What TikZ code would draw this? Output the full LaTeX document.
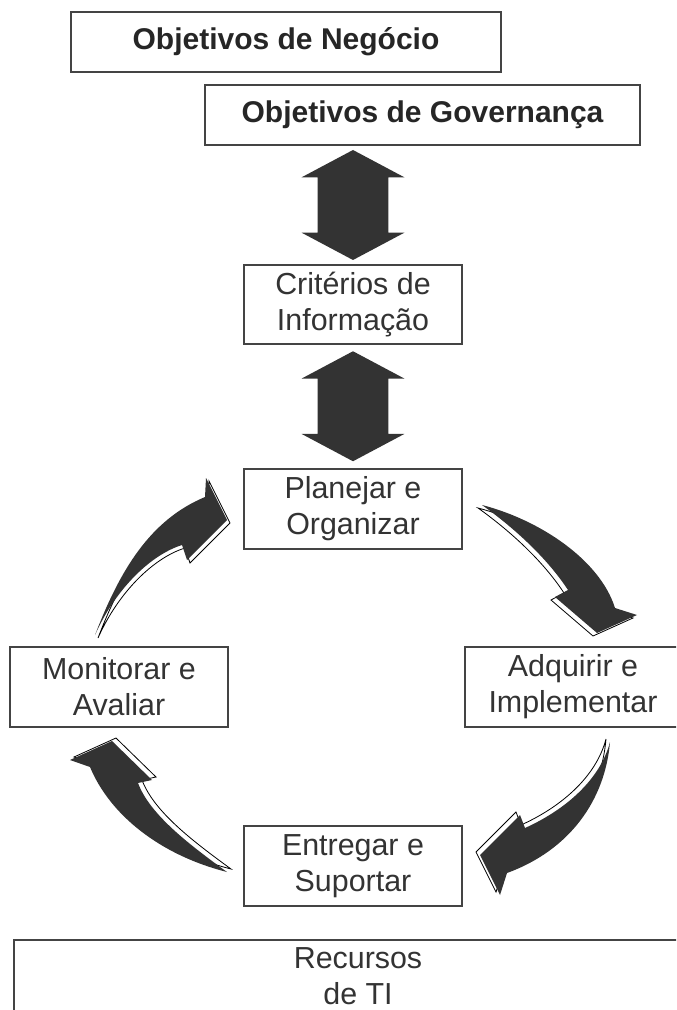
\documentclass[tikz,border=0pt]{standalone}
\usepackage{fontspec}
\setmainfont{Liberation Sans}
\usetikzlibrary{shapes.arrows,calc}
\definecolor{cinzaescuro}{HTML}{333333}
\definecolor{borda}{HTML}{444444}

\begin{document}
\begin{tikzpicture}[x=0.5pt,y=-0.5pt,
        caixa/.style={rectangle, draw=borda, line width=1pt, text=cinzaescuro,
                      align=center, minimum width=109pt, minimum height=40pt,
                      font=\fontsize{15.2}{18}\selectfont, inner sep=0pt},
        titulo/.style={caixa, font=\fontsize{15}{18}\selectfont\bfseries,
                       text=black!85, minimum height=30pt},
        setadupla/.style={double arrow, fill=cinzaescuro, rotate=90,
                          minimum height=55pt, minimum width=51pt,
                          double arrow head extend=8pt, double arrow tip angle=124,
                          inner xsep=0pt, inner ysep=17.5pt},
        setacurva/.style={fill=cinzaescuro,
                          preaction={fill=white, draw=black, line width=0.4pt,
                                     transform canvas={shift={#1}}}}
    ]
    \useasboundingbox (0,0) rectangle (676,1010);
    \clip (0,0) rectangle (676,1010);
    \fill[white] (0,0) rectangle (676,1010);

        % Objetivos no topo
        \node[titulo, minimum width=215pt] (negocio) at (286,42) {Objetivos de Negócio};
        \node[titulo, minimum width=217.5pt] (governanca) at (422.5,115) {Objetivos de Governança};

        % Caixas do ciclo
        \node[caixa, minimum height=39.5pt] (criterios) at (353,304.5) {Critérios de\\Informação};
        \node[caixa] (planejar) at (353,508.5) {Planejar e\\Organizar};
        \node[caixa] (monitorar) at (119,687) {Monitorar e\\Avaliar};
        \node[caixa, minimum width=108pt] (adquirir) at (573,687) {Adquirir e\\Implementar};
        \node[caixa] (entregar) at (353,866) {Entregar e\\Suportar};
        \node[caixa, minimum width=344pt, minimum height=36pt] (recursos) at (358,976) {Recursos\\de TI};

        % Setas duplas
        \node[setadupla] (seta1) at ($(criterios.north)!0.5!(criterios.north |- governanca.south)$) {};
        \node[setadupla] (seta2) at ($(criterios.south)!0.5!(planejar.north)$) {};

        % Setas curvas do ciclo
        \path[setacurva={(3,3)}] (95,635) .. controls (120,570) and (150,520) .. (205,497)
            -- (206,478) -- (227,520) -- (187,560) -- (182,545)
            .. controls (150,555) and (115,590) .. (95,635) -- cycle;
        \path[setacurva={(-4,3)}] (482,505) .. controls (540,520) and (600,560) .. (615,608)
            -- (637,615) -- (597,633) -- (555,597) -- (568,590)
            .. controls (545,555) and (510,525) .. (482,505) -- cycle;
        \path[setacurva={(-4,-3)}] (610,742) .. controls (605,800) and (570,850) .. (507,873)
            -- (500,895) -- (480,855) -- (520,815) -- (525,828)
            .. controls (565,810) and (600,780) .. (610,742) -- cycle;
        \path[setacurva={(4,-3)}] (227,872) .. controls (160,855) and (110,815) .. (90,767)
            -- (70,760) -- (112,741) -- (152,780) -- (138,783)
            .. controls (150,815) and (190,845) .. (227,872) -- cycle;

\end{tikzpicture}
\end{document}
